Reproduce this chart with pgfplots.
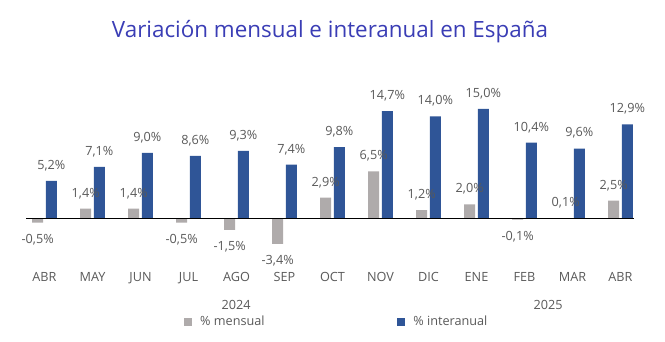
\documentclass[border=0pt]{standalone}
\usepackage{fontspec}
\setmainfont{Open Sans}
\usepackage{pgfplots}
\pgfplotsset{compat=1.18}
\definecolor{barblue}{HTML}{2F5597}
\definecolor{bargray}{HTML}{AFABAB}
\definecolor{txtgray}{HTML}{595959}
\definecolor{titleblue}{HTML}{3A3DB5}
\begin{document}
\begin{tikzpicture}
\useasboundingbox (0,0) rectangle (498.75pt,256.5pt);
\begin{axis}[
  at={(15.375pt,70.25pt)}, anchor=south west,
  scale only axis, width=468pt, height=110pt,
  xmin=-0.5, xmax=12.5, ymin=-4, ymax=16,
  clip=false,
  ybar, bar width=8.25pt,
  axis line style={draw=none}, tick style={draw=none},
  ytick=\empty,
  xtick={0,...,12},
  xticklabels={ABR,MAY,JUN,JUL,AGO,SEP,OCT,NOV,DIC,ENE,FEB,MAR,ABR},
  xticklabel style={anchor=base, yshift=-20.75pt, font=\fontsize{9.5}{11}\selectfont, text=txtgray},
  nodes near coords={\pgfmathprintnumber[fixed,fixed zerofill,precision=1,use comma,assume math mode=true]{\pgfplotspointmeta}\%},
  every node near coord/.append style={font=\fontsize{9.5}{11}\selectfont, text=txtgray, inner ysep=8.5pt, inner xsep=0pt, text height=7pt, text depth=0pt},
  legend columns=2,
  legend style={draw=none, fill=none, at={(0.2609,-0.4989)}, anchor=west, inner sep=0pt,
    font=\fontsize{9.5}{11}\selectfont, text=txtgray,
    /tikz/every even column/.append style={column sep=97pt},
    /tikz/every odd column/.append style={column sep=4.5pt}},
  legend image code/.code={\fill[#1] (0pt,-3pt) rectangle (6pt,3pt);},
]
\addplot[fill=bargray, draw=none, bar shift=-5.1pt] coordinates {
  (0,-0.5) (1,1.4) (2,1.4) (3,-0.5) (4,-1.5) (5,-3.4) (6,2.9)
  (7,6.5) (8,1.2) (9,2.0) (10,-0.1) (11,0.1) (12,2.5)};
\addlegendentry{\% mensual}
\addplot[fill=barblue, draw=none, bar shift=5.1pt] coordinates {
  (0,5.2) (1,7.1) (2,9.0) (3,8.6) (4,9.3) (5,7.4) (6,9.8)
  (7,14.7) (8,14.0) (9,15.0) (10,10.4) (11,9.6) (12,12.9)};
\addlegendentry{\% interanual}
\draw[black, line width=0.75pt] (axis cs:-0.385,0) -- (axis cs:12.28,0);
\end{axis}
\begin{scope}[x=0.75pt,y=-0.75pt,shift={(0pt,256.5pt)}]
\node[anchor=base, text=titleblue, font=\fontsize{16.8}{20}\selectfont] at (330,38) {Variación mensual e interanual en España};
\node[anchor=base, text=txtgray, font=\fontsize{9.5}{11}\selectfont] at (236,310) {2024};
\node[anchor=base, text=txtgray, font=\fontsize{9.5}{11}\selectfont] at (548,310) {2025};
\end{scope}
\end{tikzpicture}
\end{document}
